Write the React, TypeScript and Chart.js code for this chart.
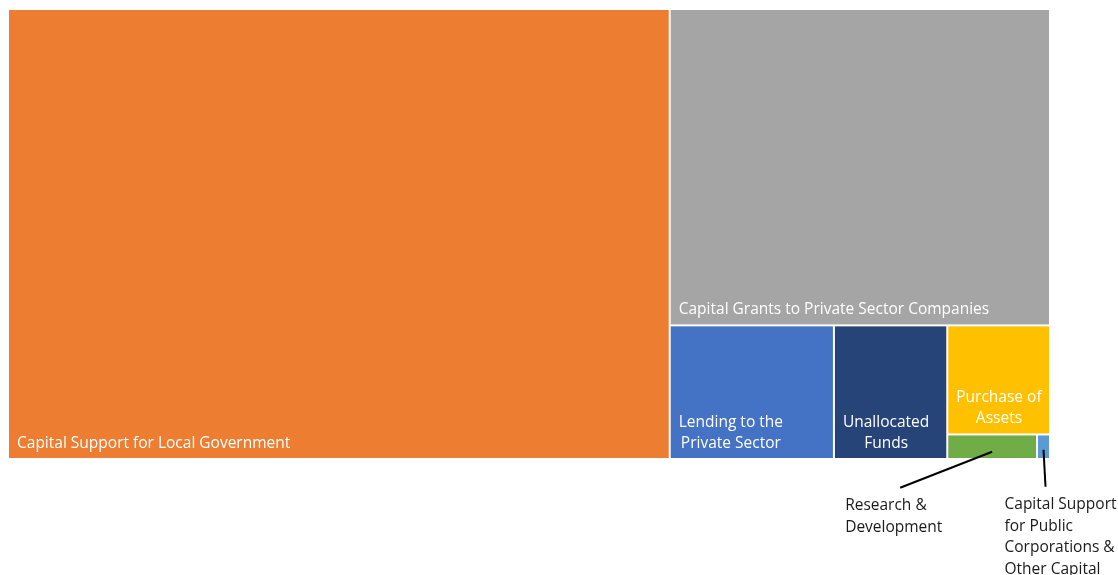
import React, { useEffect, useRef } from "react";
import { Chart, registerables } from "chart.js";
Chart.register(...registerables);

const categories = [
  "Capital Support for Local Government",
  "Capital Grants to Private Sector Companies",
  "Lending to the Private Sector",
  "Unallocated Funds",
  "Purchase of Assets",
  "Research & Development",
  "Capital Support for Public Corporations & Other Capital",
];
const values = [6351, 2566, 468, 323, 239, 47, 6.8];
const colors = ["#ED7D31", "#A5A5A5", "#4472C4", "#264478", "#FFC000", "#70AD47", "#5B9BD5"];
const labelOutside = [false, false, false, false, false, true, true];
// callout leader-line offsets (relative to cell centre) for small cells
const calloutStart = [null, null, null, null, null, [0, 5], [0, 3]];
const calloutEnd = [null, null, null, null, null, [-92, 41], [2, 40]];
const calloutLabelShift = [null, null, null, null, null, [-55, 18], [-41, 18]];

const FONT = '15.5px "Open Sans", "Segoe UI", sans-serif';

type R = { x: number; y: number; w: number; h: number };

function worst(row: number[], s: number) {
  const sum = row.reduce((a, b) => a + b, 0);
  const mx = Math.max(...row);
  const mn = Math.min(...row);
  return Math.max((s * s * mx) / (sum * sum), (sum * sum) / (s * s * mn));
}

function squarify(vals: number[], x: number, y: number, w: number, h: number): R[] {
  const total = vals.reduce((a, b) => a + b, 0);
  const areas = vals.map((v) => (v * w * h) / total);
  const rects: R[] = [];
  let rx = x, ry = y, rw = w, rh = h;
  let i = 0;
  while (i < areas.length) {
    const s = Math.min(rw, rh);
    let row = [areas[i]];
    let cur = worst(row, s);
    let j = i + 1;
    while (j < areas.length) {
      const next = [...row, areas[j]];
      const wn = worst(next, s);
      if (wn <= cur) {
        row = next;
        cur = wn;
        j++;
      } else break;
    }
    const rs = row.reduce((a, b) => a + b, 0);
    if (rw >= rh) {
      const cw = rs / rh;
      let cy = ry;
      row.forEach((a) => {
        const hh = a / cw;
        rects.push({ x: rx, y: cy, w: cw, h: hh });
        cy += hh;
      });
      rx += cw;
      rw -= cw;
    } else {
      const ch = rs / rw;
      let cx = rx;
      row.forEach((a) => {
        const ww = a / ch;
        rects.push({ x: cx, y: ry, w: ww, h: ch });
        cx += ww;
      });
      ry += ch;
      rh -= ch;
    }
    i = j;
  }
  return rects;
}

function wrap(ctx: CanvasRenderingContext2D, text: string, maxW: number): string[] {
  const words = text.split(" ");
  const lines: string[] = [];
  let cur = "";
  words.forEach((wd) => {
    const t = cur ? cur + " " + wd : wd;
    if (cur && ctx.measureText(t).width > maxW) {
      lines.push(cur);
      cur = wd;
    } else cur = t;
  });
  if (cur) lines.push(cur);
  return lines;
}

const treemapPlugin = {
  id: "treemapCells",
  afterDatasetsDraw(chart: any) {
    const { ctx, scales } = chart;
    const xs = scales.x, ys = scales.y;
    const left = xs.getPixelForValue(0), right = xs.getPixelForValue(1);
    const top = ys.getPixelForValue(1), bottom = ys.getPixelForValue(0);
    const rects = squarify(values, left, top, right - left, bottom - top);
    ctx.save();
    ctx.font = FONT;
    const lh = 21.5;
    rects.forEach((r, k) => {
      const x = r.x + 1, y = r.y + 1, w = r.w - 2, h = r.h - 2;
      ctx.fillStyle = colors[k];
      ctx.fillRect(x, y, w, h);
      if (!labelOutside[k]) {
        const lines = wrap(ctx, categories[k], w - 12);
        const widths = lines.map((l) => ctx.measureText(l).width);
        const bw = Math.max(...widths);
        ctx.fillStyle = "#FFFFFF";
        ctx.textBaseline = "alphabetic";
        ctx.textAlign = "left";
        lines.forEach((l, li) => {
          const by = y + h - 10 - (lines.length - 1 - li) * lh;
          ctx.fillText(l, x + 8 + (bw - widths[li]) / 2, by);
        });
      }
    });
    rects.forEach((r, k) => {
      if (!labelOutside[k]) return;
      const cx = r.x + r.w / 2, cy = r.y + r.h / 2;
      const s = calloutStart[k] as number[], e = calloutEnd[k] as number[], ls = calloutLabelShift[k] as number[];
      const ex = cx + e[0], ey = cy + e[1];
      ctx.strokeStyle = "#000000";
      ctx.lineWidth = 2;
      ctx.beginPath();
      ctx.moveTo(cx + s[0], cy + s[1]);
      ctx.lineTo(ex, ey);
      ctx.stroke();
      const lines = wrap(ctx, categories[k], 118);
      ctx.fillStyle = "#1a1a1a";
      ctx.textBaseline = "middle";
      ctx.textAlign = "left";
      lines.forEach((l, li) => {
        ctx.fillText(l, ex + ls[0], ey + ls[1] + li * lh);
      });
    });
    ctx.restore();
  },
};

export default function App() {
  const ref = useRef<HTMLCanvasElement>(null);
  useEffect(() => {
    document.body.style.margin = "0";
    document.body.style.overflow = "hidden";
    if (!ref.current) return;
    const chart = new Chart(ref.current, {
      type: "scatter",
      data: {
        labels: categories,
        datasets: [
          {
            label: "Capital budget",
            data: values.map(() => ({ x: 0.5, y: 0.5 })),
            pointRadius: 0,
            pointHoverRadius: 0,
          },
        ],
      },
      options: {
        animation: false,
        responsive: true,
        maintainAspectRatio: false,
        layout: { padding: { left: 8, right: 68, top: 9, bottom: 116 } },
        plugins: { legend: { display: false }, tooltip: { enabled: false } },
        scales: {
          x: { type: "linear", min: 0, max: 1, display: false },
          y: { type: "linear", min: 0, max: 1, display: false },
        },
      },
      plugins: [treemapPlugin],
    });
    return () => chart.destroy();
  }, []);
  return (
    <div style={{ width: 1118, height: 575, position: "relative" }}>
      <canvas ref={ref} />
    </div>
  );
}
